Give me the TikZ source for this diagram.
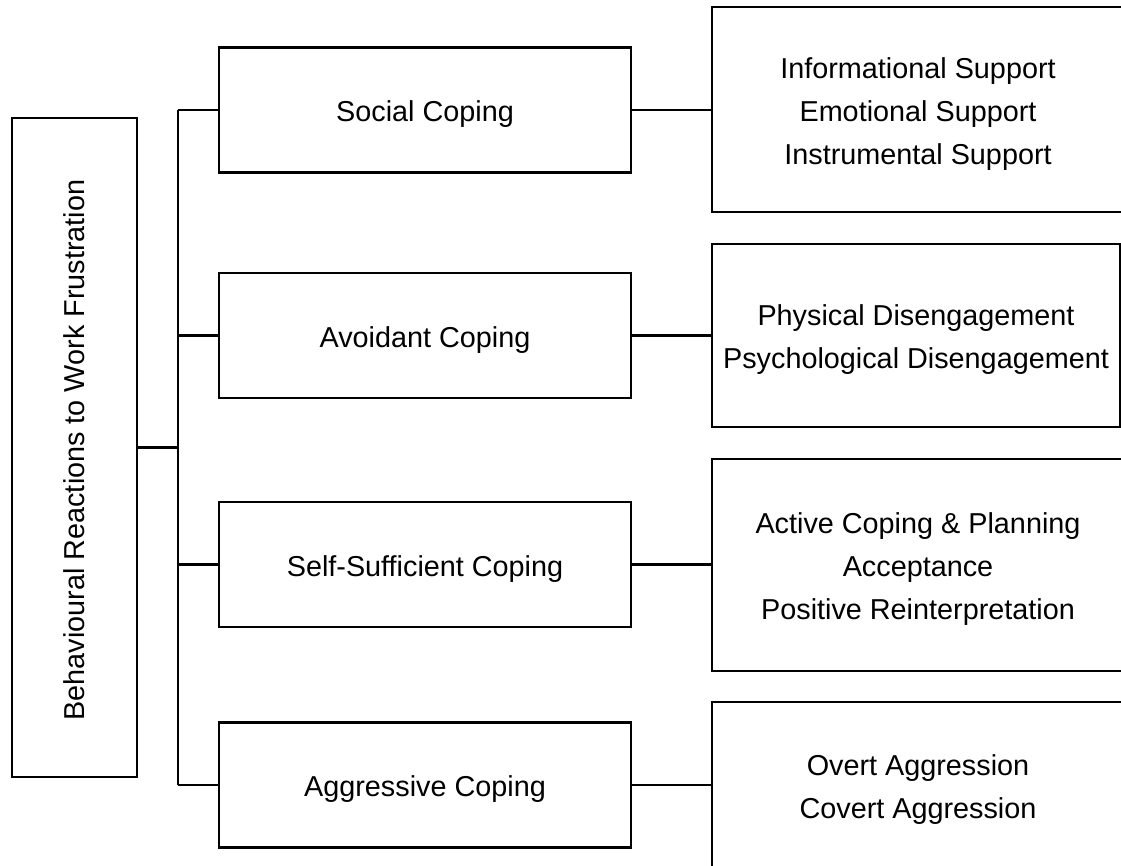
\documentclass[tikz,border=0pt]{standalone}
\usepackage{fontspec}
\setmainfont{Liberation Sans}
% tall invisible strut opening each box text, so the lines sit a bit lower
\newcommand\topgap{\rule{0pt}{29pt}}
\begin{document}
\begin{tikzpicture}[x=1pt, y=-1pt,
  box/.style={draw=black, line width=2.4pt, rectangle, inner sep=0pt,
    align=center, font=\fontsize{28.8}{43}\selectfont},
  midbox/.style={box, minimum width=412pt, minimum height=125pt},
  leafbox/.style={box, minimum width=408pt},
  link/.style={draw=black, line width=2.4pt}]
\useasboundingbox (0,0) rectangle (1121,865);
\clip (0,0) rectangle (1121,865);

% root
\node[box, minimum width=125pt, minimum height=659pt] (root) at (74.5,447.5)
  {\rotatebox{90}{Behavioural Reactions to Work Frustration\hspace*{5pt}}};

% trunk position
\coordinate (tk) at (178,0);

% coping styles
\node[midbox] (social) at (425,110) {\topgap Social Coping};
\node[midbox] (avoid)  at (425,335.5) {\topgap Avoidant Coping};
\node[midbox] (self)   at (425,564.5) {\topgap Self-Sufficient Coping};
\node[midbox] (aggr)   at (425,785) {\topgap Aggressive Coping};

% behaviours
\node[leafbox, minimum width=412pt, minimum height=205pt] (r1) at (918,109.5)
  {\topgap Informational Support\\Emotional Support\\Instrumental Support};
\node[leafbox, minimum height=183pt] (r2) at (916,335.5)
  {\topgap Physical Disengagement\\Psychological Disengagement};
\node[leafbox, minimum width=412pt, minimum height=212pt] (r3) at (918,565)
  {\topgap Active Coping \& Planning\\Acceptance\\Positive Reinterpretation};
\node[leafbox, minimum width=412pt, minimum height=166pt] (r4) at (918,785)
  {\topgap Overt Aggression\\Covert Aggression};

% connectors
\draw[link] (root.east) -- (root.east -| tk);
\draw[link] (social.west -| tk) -- (aggr.west -| tk);
\foreach \n in {social,avoid,self,aggr}
  \draw[link] (\n.west -| tk) -- (\n.west);
\draw[link] (social.east) -- (social.east -| r1.west);
\draw[link] (avoid.east) -- (avoid.east -| r2.west);
\draw[link] (self.east) -- (self.east -| r3.west);
\draw[link] (aggr.east) -- (aggr.east -| r4.west);
\end{tikzpicture}
\end{document}
